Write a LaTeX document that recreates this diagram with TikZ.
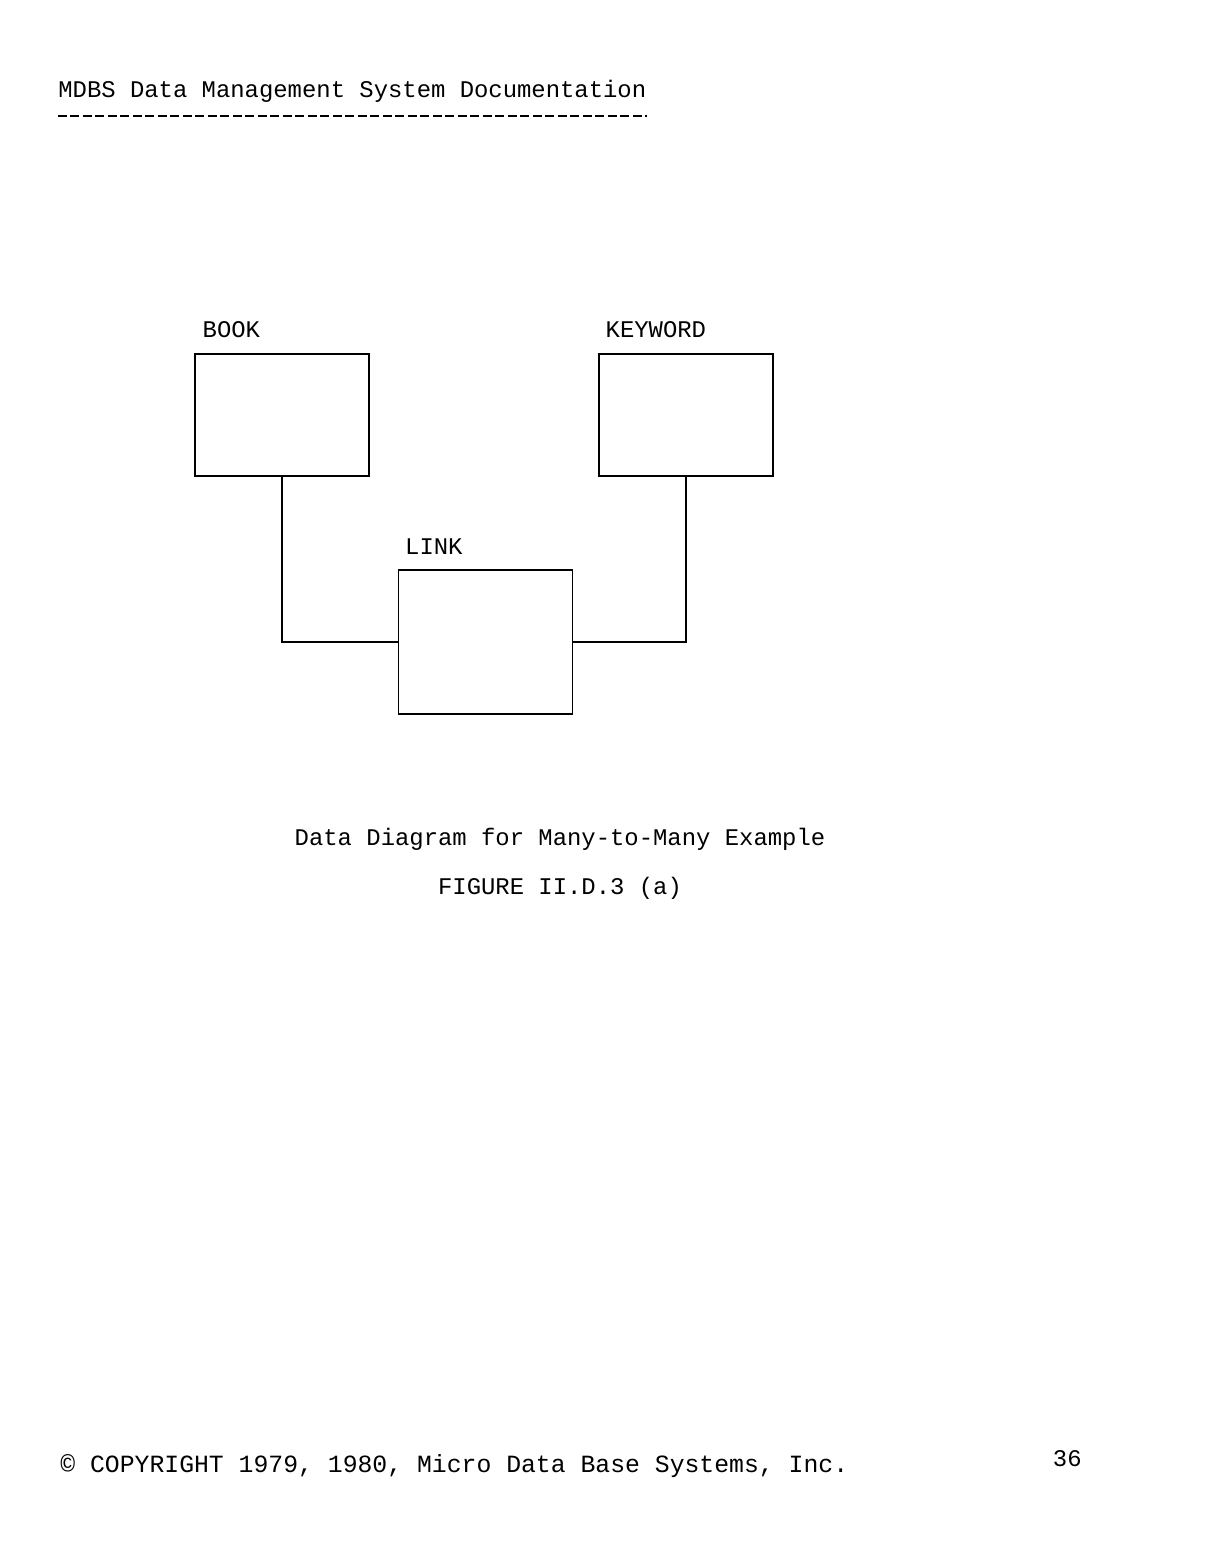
\documentclass[tikz,border=0pt]{standalone}
\usepackage{fontspec}
\setmainfont{Liberation Mono}
\usetikzlibrary{positioning}

\begin{document}
\begin{tikzpicture}[
  x=0.02cm, y=-0.02cm,
  record/.style={draw, line width=0.8pt, minimum width=3.48cm, minimum height=2.44cm, inner sep=0pt},
  recname/.style={inner sep=0pt, font=\fontsize{13.6}{16}\selectfont},
  txt/.style={inner sep=0pt, font=\fontsize{13.6}{16}\selectfont},
  conn/.style={line width=0.8pt},
  rule/.style={line width=1.1pt, dash pattern=on 0.18cm off 0.07cm}
]
\useasboundingbox (0,0) rectangle (1225,1567);
% page header
\node[txt, anchor=base west] (head) at (58,98) {MDBS Data Management System Documentation};
\draw[rule] ([yshift=-0.36cm]head.base west) -- ([yshift=-0.36cm]head.base east);
% record types
\node[record] (book) at (282,415) {};
\node[record] (keyword) at (686,415) {};
\node[record, minimum height=2.88cm] (link) at (485.5,642) {};
\node[recname, above right=0.32cm and 0.16cm of book.north west, anchor=base west] (booklbl) {BOOK};
\node[recname, above right=0.32cm and 0.14cm of keyword.north west, anchor=base west] (keywordlbl) {KEYWORD};
\node[recname, above right=0.30cm and 0.14cm of link.north west, anchor=base west] (linklbl) {LINK};
\draw[conn] (book.south) |- (link.west);
\draw[conn] (keyword.south) |- (link.east);
% caption
\node[txt, anchor=base] (caption) at (560,845) {Data Diagram for Many-to-Many Example};
\node[txt, anchor=base] (figno) at (560,894) {FIGURE II.D.3 (a)};
% footer
\node[txt, anchor=base west, font=\fontsize{14.1}{16}\selectfont] (copy) at (60,1472) {© COPYRIGHT 1979, 1980, Micro Data Base Systems, Inc.};
\node[txt, anchor=base east] (page) at (1082,1466) {36};
\end{tikzpicture}
\end{document}
